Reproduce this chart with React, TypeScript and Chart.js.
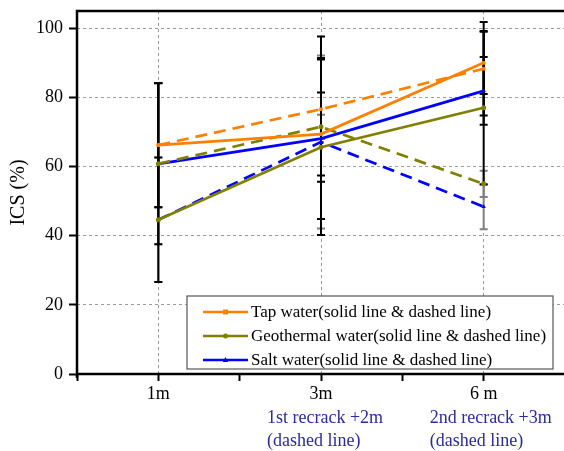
import React, { useEffect, useRef } from 'react';
import { Chart, registerables } from 'chart.js';

Chart.register(...registerables);

const categories = ['1m', '3m', '6 m'];
const xPositions = [1, 2, 3];
const subLabels: string[][] = [[], ['1st recrack +2m', '(dashed line)'], ['2nd recrack +3m', '(dashed line)']];
const yTicks = [0, 20, 40, 60, 80, 100];

const tapSolid = [66.2, 69.4, 90.0];
const tapDashed = [66.2, 76.6, 88.3];
const geoSolid = [44.6, 65.6, 77.0];
const geoDashed = [60.8, 71.5, 55.0];
const saltSolid = [60.8, 68.1, 81.9];
const saltDashed = [44.6, 67.1, 48.4];

const tapSolidErr = [18, 12, 9];
const tapDashedErr = [18, 21, 13.5];
const geoSolidErr = [18, 25.4, 22.2];
const geoDashedErr = [23.3, 3.5, 3.8];
const saltSolidErr = [23.3, 23.3, 9.8];
const saltDashedErr = [18, 25, 6.5];

const legendLabels = [
  'Tap water(solid line & dashed line)',
  'Geothermal water(solid line & dashed line)',
  'Salt water(solid line & dashed line)',
];

const ORANGE = '#ff8000';
const OLIVE = '#808000';
const BLUE = '#0000ff';
const FONT = '"Liberation Serif", "Times New Roman", serif';

function drawMarker(ctx: CanvasRenderingContext2D, style: string, x: number, y: number, r: number, color: string) {
  ctx.fillStyle = color;
  ctx.beginPath();
  if (style === 'rect') {
    ctx.rect(x - r, y - r, 2 * r, 2 * r);
  } else if (style === 'triangle') {
    ctx.moveTo(x, y - r * 1.2);
    ctx.lineTo(x + r * 1.1, y + r * 0.8);
    ctx.lineTo(x - r * 1.1, y + r * 0.8);
    ctx.closePath();
  } else {
    ctx.arc(x, y, r, 0, Math.PI * 2);
  }
  ctx.fill();
}

const errorBarPlugin = {
  id: 'errorBars',
  beforeDatasetsDraw(chart: any) {
    const { ctx, scales } = chart;
    const xs = scales.x;
    const ys = scales.y;
    ctx.save();
    const order = chart.data.datasets
      .map((ds: any, i: number) => i)
      .sort((a: number, b: number) => {
        const ga = chart.data.datasets[a].errColor === '#000000' ? 1 : 0;
        const gb = chart.data.datasets[b].errColor === '#000000' ? 1 : 0;
        return ga - gb;
      });
    order.forEach((di: number) => {
      const ds = chart.data.datasets[di];
      ctx.strokeStyle = ds.errColor;
      ctx.lineWidth = 2;
      ds.data.forEach((p: any, i: number) => {
        const e = ds.err[i];
        const px = xs.getPixelForValue(p.x);
        const top = ys.getPixelForValue(p.y + e);
        const bot = ys.getPixelForValue(p.y - e);
        ctx.beginPath();
        ctx.moveTo(px, top);
        ctx.lineTo(px, bot);
        ctx.moveTo(px - 4, top);
        ctx.lineTo(px + 4, top);
        ctx.moveTo(px - 4, bot);
        ctx.lineTo(px + 4, bot);
        ctx.stroke();
      });
    });
    ctx.restore();
  },
};

const framePlugin = {
  id: 'frameLegend',
  afterDraw(chart: any) {
    const { ctx, chartArea, scales } = chart;
    const { left, right, top, bottom } = chartArea;
    ctx.save();
    // frame
    ctx.strokeStyle = '#000';
    ctx.lineWidth = 2.5;
    ctx.beginPath();
    ctx.moveTo(left, bottom + 4);
    ctx.lineTo(left, top);
    ctx.lineTo(right, top);
    ctx.moveTo(left - 1, bottom);
    ctx.lineTo(right, bottom);
    ctx.stroke();

    // legend
    const bx = 187, by = 296, bw = 366, bh = 73;
    ctx.fillStyle = '#ffffff';
    ctx.fillRect(bx, by, bw, bh);
    ctx.strokeStyle = '#555555';
    ctx.lineWidth = 1.2;
    ctx.strokeRect(bx, by, bw, bh);
    const solidSets = chart.data.datasets.filter((d: any) => !d.borderDash || d.borderDash.length === 0);
    ctx.font = `17px ${FONT}`;
    ctx.textBaseline = 'middle';
    solidSets.forEach((ds: any, i: number) => {
      const ry = 312 + i * 24;
      ctx.strokeStyle = ds.borderColor;
      ctx.lineWidth = 2.5;
      ctx.beginPath();
      ctx.moveTo(203, ry);
      ctx.lineTo(248, ry);
      ctx.stroke();
      drawMarker(ctx, ds.pointStyle, 225.5, ry, 2.5, ds.borderColor);
      ctx.fillStyle = '#000';
      ctx.fillText(legendLabels[i], 251, ry + 1);
    });

    // sub labels under x ticks
    ctx.fillStyle = '#2b2b9c';
    ctx.font = `18px ${FONT}`;
    ctx.textAlign = 'left';
    subLabels.forEach((lines, i) => {
      const px = scales.x.getPixelForValue(xPositions[i]);
      lines.forEach((t, j) => {
        ctx.fillText(t, px - 54, 418 + j * 23);
      });
    });
    ctx.restore();
  },
};

function mk(label: string, ys: number[], err: number[], color: string, dashed: boolean, style: string, errColor: string) {
  return {
    label,
    data: xPositions.map((x, i) => ({ x, y: ys[i] })),
    err,
    errColor,
    borderColor: color,
    backgroundColor: color,
    pointBackgroundColor: color,
    pointBorderColor: color,
    borderWidth: 2.7,
    borderDash: dashed ? [12, 7] : [],
    pointStyle: style,
    pointRadius: 2.5,
    pointBorderWidth: 0,
    tension: 0,
    fill: false,
  };
}

export default function App() {
  const ref = useRef<HTMLCanvasElement | null>(null);
  useEffect(() => {
    if (!ref.current) return;
    const chart = new Chart(ref.current, {
      type: 'line',
      data: {
        datasets: [
          mk('Tap solid', tapSolid, tapSolidErr, ORANGE, false, 'rect', '#000000'),
          mk('Tap dashed', tapDashed, tapDashedErr, ORANGE, true, 'rect', '#000000'),
          mk('Geo solid', geoSolid, geoSolidErr, OLIVE, false, 'circle', '#000000'),
          mk('Geo dashed', geoDashed, geoDashedErr, OLIVE, true, 'circle', '#808080'),
          mk('Salt solid', saltSolid, saltSolidErr, BLUE, false, 'triangle', '#000000'),
          mk('Salt dashed', saltDashed, saltDashedErr, BLUE, true, 'triangle', '#808080'),
        ] as any,
      },
      options: {
        animation: false,
        responsive: true,
        maintainAspectRatio: false,
        layout: { padding: { left: 0, top: 11, right: 35, bottom: 0 } },
        plugins: { legend: { display: false }, tooltip: { enabled: false } },
        scales: {
          x: {
            type: 'linear',
            min: 0.5,
            max: 3.5,
            afterFit: (s: any) => { s.height = 77; s.paddingLeft = 0; s.paddingRight = 0; },
            afterBuildTicks: (s: any) => {
              s.ticks = [0.5, 1, 1.5, 2, 2.5, 3, 3.5].map((v) => ({ value: v }));
            },
            ticks: {
              autoSkip: false,
              maxRotation: 0,
              padding: 2,
              color: '#000',
              font: { family: FONT, size: 18 },
              callback: (v: any) => {
                const idx = xPositions.indexOf(Number(v));
                return idx >= 0 ? categories[idx] : '';
              },
            },
            grid: {
              color: (c: any) => (c.tick && Number.isInteger(c.tick.value) ? '#9a9a9a' : 'rgba(0,0,0,0)'),
              tickColor: '#000',
              tickWidth: 2,
              tickLength: 7,
              tickBorderDash: [],
              lineWidth: 1,
            },
            border: { display: false, dash: [3, 3] },
          },
          y: {
            type: 'linear',
            min: 0,
            max: 105,
            afterFit: (s: any) => { s.width = 77; s.paddingTop = 0; s.paddingBottom = 0; },
            afterBuildTicks: (s: any) => {
              s.ticks = yTicks.map((v) => ({ value: v }));
            },
            title: {
              display: true,
              text: 'ICS (%)',
              color: '#000',
              font: { family: FONT, size: 20 },
              padding: { top: 7, bottom: 0 },
            },
            ticks: {
              padding: 6,
              color: '#000',
              font: { family: FONT, size: 18 },
            },
            grid: {
              color: (c: any) => (c.tick && c.tick.value === 0 ? 'rgba(0,0,0,0)' : '#9a9a9a'),
              tickColor: '#000',
              tickWidth: 2,
              tickLength: 8,
              tickBorderDash: [],
              lineWidth: 1,
            },
            border: { display: false, dash: [3, 3] },
          },
        },
      },
      plugins: [errorBarPlugin, framePlugin],
    } as any);
    return () => chart.destroy();
  }, []);

  return (
    <div style={{ position: 'fixed', left: 0, top: 0, width: 564, height: 451, overflow: 'hidden', background: '#fff' }}>
      <div style={{ position: 'relative', width: 600, height: 451 }}>
        <canvas ref={ref} />
      </div>
    </div>
  );
}
